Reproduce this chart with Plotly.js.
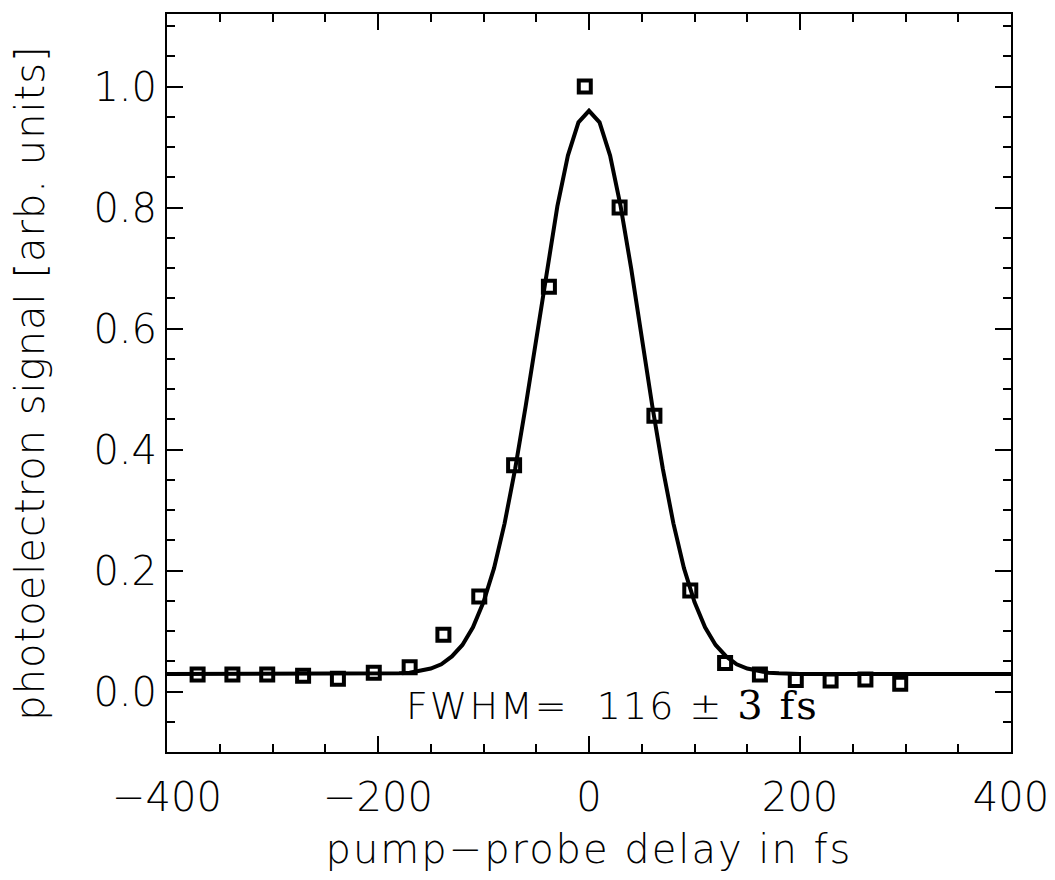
<!DOCTYPE html>
<html>
<head>
<meta charset="utf-8">
<script src="https://cdn.plot.ly/plotly-3.0.1.min.js"></script>
<style>
  html, body { margin: 0; padding: 0; background: #ffffff; }
  #chart { width: 1055px; height: 880px; }
  #chart text.xtitle { letter-spacing: 2px; }
  #chart text.ytitle { letter-spacing: 1px; }
  #chart text.annotation-text { letter-spacing: 2px; }
</style>
</head>
<body>
<div id="chart"></div>
<script>
// Measured data points (pump-probe delay in fs, normalized signal)
const delayFs = [-371, -338, -305, -271, -238, -204, -170, -138, -104, -71, -38, -4, 29, 62, 96, 129, 162, 196, 229, 262, 295];
const signal  = [0.028, 0.028, 0.028, 0.026, 0.021, 0.031, 0.040, 0.094, 0.157, 0.374, 0.669, 1.000, 0.800, 0.456, 0.167, 0.047, 0.028, 0.019, 0.018, 0.020, 0.013];

// Fit curve as drawn
const fitX = [-400, -200, -190, -180, -170, -160, -150, -140, -130, -120, -110, -100, -90, -80, -70, -60, -50, -40, -30, -20, -10, 0,
              10, 20, 30, 40, 50, 60, 70, 80, 90, 100, 110, 120, 130, 140, 150, 160, 170, 180, 190, 200, 400];
const fitY = [0.029, 0.029, 0.029, 0.030, 0.031, 0.034, 0.038, 0.045, 0.058, 0.077, 0.106, 0.148, 0.204, 0.278, 0.368, 0.472, 0.585, 0.699, 0.802, 0.886, 0.941, 0.960,
              0.941, 0.886, 0.802, 0.699, 0.585, 0.472, 0.368, 0.278, 0.204, 0.148, 0.106, 0.077, 0.058, 0.045, 0.038, 0.034, 0.031, 0.030, 0.029, 0.029, 0.029];

const xTickVals = [-400, -200, 0, 200, 400];
const yTickVals = [0.0, 0.2, 0.4, 0.6, 0.8, 1.0];
const yTickText = ['0.0', '0.2', '0.4', '0.6', '0.8', '1.0'];

const xTitle = 'pump\u2212probe delay in fs';
const yTitle = 'photoelectron signal [arb. units]';
const fwhmText = 'FWHM=\u00A0 116 \u00B1 <span style="font-family:\'DejaVu Serif\', \'Liberation Serif\', serif; font-size:40px">3 fs</span>';

const FONT = "'DejaVu Sans', 'Liberation Sans', sans-serif";
const W = 300;

const traces = [
  {
    x: fitX, y: fitY, type: 'scatter', mode: 'lines',
    line: { color: '#000000', width: 4 },
    hoverinfo: 'skip', showlegend: false
  },
  {
    x: delayFs, y: signal, type: 'scatter', mode: 'markers',
    marker: { symbol: 'square-open', size: 12, color: '#000000', line: { color: '#000000', width: 4 } },
    showlegend: false
  }
];

const axisCommon = {
  showgrid: false, zeroline: false,
  showline: true, linecolor: '#000000', linewidth: 2,
  mirror: 'allticks',
  ticks: 'inside', ticklen: 16, tickwidth: 2, tickcolor: '#000000',
  tickfont: { family: FONT, size: 40, color: '#000000', weight: W }
};

const layout = {
  width: 1055, height: 880,
  paper_bgcolor: '#ffffff', plot_bgcolor: '#ffffff',
  margin: { l: 167, r: 44, t: 14, b: 128 },
  showlegend: false,
  xaxis: Object.assign({}, axisCommon, {
    range: [-400, 400],
    tickmode: 'array', tickvals: xTickVals,
    ticklabelstandoff: 9,
    minor: { dtick: 50, ticks: 'inside', ticklen: 8, tickwidth: 2, tickcolor: '#000000' },
    title: { text: xTitle, font: { family: FONT, size: 40, color: '#000000', weight: W }, standoff: 16 },
    automargin: false
  }),
  yaxis: Object.assign({}, axisCommon, {
    range: [-0.1, 1.12],
    tickmode: 'array', tickvals: yTickVals, ticktext: yTickText,
    minor: { dtick: 0.05, tick0: 0, ticks: 'inside', ticklen: 8, tickwidth: 2, tickcolor: '#000000' },
    title: { text: yTitle, font: { family: FONT, size: 40, color: '#000000', weight: W }, standoff: 36 },
    automargin: false
  }),
  annotations: [{
    x: 22, y: -0.022, xref: 'x', yref: 'y',
    text: fwhmText, showarrow: false,
    xanchor: 'center', yanchor: 'middle',
    font: { family: FONT, size: 38, color: '#000000', weight: W }
  }]
};

Plotly.newPlot('chart', traces, layout, { displayModeBar: false, staticPlot: true });
</script>
</body>
</html>
